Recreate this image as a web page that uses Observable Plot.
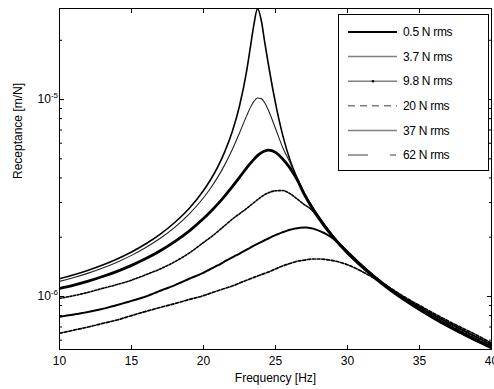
<!DOCTYPE html>
<html><head><meta charset="utf-8">
<script src="https://cdn.jsdelivr.net/npm/d3@7"></script>
<script src="https://cdn.jsdelivr.net/npm/@observablehq/plot@0.6"></script>
<style>
html,body{margin:0;padding:0;background:#fff;overflow:hidden;}
#wrap{position:relative;width:494px;height:389px;font-family:"Liberation Sans",Arial,sans-serif;}
#wrap svg{display:block;}
#legend{position:absolute;left:338px;top:14px;width:151px;height:157px;box-sizing:border-box;border:1px solid #000;background:#fff;}
</style></head><body><div id="wrap"></div>
<script>
// Frequency grid [Hz]
const freq = [10,11,12,13,14,15,16,17,18,19,20,20.5,21,21.5,22,22.5,23,23.25,23.5,23.75,24,24.25,24.5,25,25.5,26,26.5,27,27.5,28,29,30,31,32,33,34,35,36,37,38,39,40];
// Receptance values in 1e-6 m/N
const r05 = [1.231,1.289,1.360,1.445,1.551,1.683,1.852,2.074,2.375,2.797,3.452,3.927,4.570,5.487,6.891,9.28,14.04,18.35,24.0,28.9,25.5,19.6,15.2,9.6,6.6,4.95,4.0,3.35,2.9,2.55,2.03,1.68,1.43,1.235,1.085,0.963,0.865,0.782,0.712,0.651,0.599,0.553];
const r37 = [1.193,1.248,1.314,1.395,1.494,1.617,1.773,1.974,2.244,2.620,3.173,3.556,4.050,4.70,5.574,6.765,8.29,9.10,9.79,10.18,10.11,9.63,8.85,7.13,5.71,4.8,3.95,3.33,2.88,2.53,2.02,1.675,1.42,1.226,1.075,0.954,0.854,0.771,0.701,0.641,0.590,0.545];
const r98 = [1.10,1.143,1.197,1.263,1.342,1.439,1.558,1.708,1.899,2.149,2.486,2.70,2.954,3.256,3.613,4.03,4.50,4.74,4.97,5.19,5.36,5.48,5.53,5.39,4.99,4.5,3.92,3.3,2.85,2.5,2.0,1.66,1.415,1.225,1.075,0.956,0.858,0.776,0.706,0.646,0.594,0.549];
const r20 = [0.978,1.01,1.05,1.10,1.15,1.21,1.29,1.38,1.50,1.66,1.88,2.0,2.14,2.3,2.47,2.63,2.80,2.90,3.0,3.1,3.2,3.29,3.36,3.44,3.45,3.33,3.13,2.93,2.76,2.5,2.02,1.69,1.44,1.245,1.095,0.975,0.875,0.79,0.72,0.66,0.607,0.56];
const r370 = [0.79,0.81,0.835,0.865,0.905,0.95,1.0,1.07,1.14,1.23,1.32,1.38,1.44,1.51,1.58,1.65,1.73,1.77,1.81,1.85,1.89,1.93,1.97,2.05,2.12,2.18,2.22,2.24,2.22,2.16,1.97,1.69,1.44,1.245,1.095,0.98,0.885,0.805,0.735,0.675,0.62,0.57];
const r62 = [0.65,0.675,0.70,0.73,0.76,0.80,0.84,0.88,0.92,0.965,1.01,1.04,1.07,1.10,1.13,1.17,1.21,1.23,1.25,1.27,1.29,1.31,1.33,1.38,1.43,1.47,1.51,1.53,1.55,1.55,1.52,1.45,1.34,1.22,1.10,0.99,0.90,0.82,0.75,0.69,0.635,0.58];
const unit = 1e-6;
const seriesNames = ["0.5 N rms","3.7 N rms","9.8 N rms","20 N rms","37 N rms","62 N rms"];
const seriesValues = [r05, r37, r98, r20, r370, r62];
const xTicks = [10,15,20,25,30,35,40];
const yMajor = [1e-6, 1e-5];
const yMinor = [6e-7,7e-7,8e-7,9e-7,2e-6,3e-6,4e-6,5e-6,6e-6,7e-6,8e-6,9e-6,2e-5];
const yDomain = [5.38e-7, 2.9e-5];
const xLabel = "Frequency [Hz]";
const yLabel = "Receptance [m/N]";

// line styles (plot) and legend styles
const plotStyles = [
  {stroke:"#000", strokeWidth:1.6},
  {stroke:"#222", strokeWidth:1.1},
  {stroke:"#000", strokeWidth:2.8},
  {stroke:"#000", strokeWidth:1.6, strokeDasharray:"2,1.6"},
  {stroke:"#000", strokeWidth:2.0, strokeDasharray:"5,1"},
  {stroke:"#000", strokeWidth:1.7, strokeDasharray:"3,1.8"}
];
const legendStyles = [
  {stroke:"#000", w:2, dash:null, dot:false},
  {stroke:"#808080", w:1.5, dash:null, dot:false},
  {stroke:"#808080", w:1.5, dash:null, dot:true},
  {stroke:"#808080", w:1.5, dash:"7,5", dot:false},
  {stroke:"#808080", w:1.5, dash:null, dot:false},
  {stroke:"#808080", w:1.5, dash:"20,22,6,60", dot:false}
];

const rows = seriesNames.map((name, i) => freq.map((f, j) => ({f, v: seriesValues[i][j]*unit, s: name})));

const lines = rows.map((data, i) => Plot.line(data, {x:"f", y:"v", curve:"monotone-x", clip:true, ...plotStyles[i]}));

const chart = Plot.plot({
  width: 494, height: 389,
  marginLeft: 59, marginRight: 3, marginTop: 8, marginBottom: 40,
  style: {fontFamily: "'Liberation Sans', Arial, sans-serif", fontSize: "12px", color: "#000", background: "#fff", overflow: "visible"},
  x: {domain: [10, 40]},
  y: {type: "log", domain: yDomain},
  marks: [
    ...lines,
    Plot.frame({stroke: "#000", strokeWidth: 1}),
    Plot.axisX(xTicks, {anchor: "bottom", tickSize: -4, tickPadding: 11, label: null}),
    Plot.axisX(xTicks, {anchor: "top", tickSize: -4, tickFormat: () => "", label: null}),
    Plot.axisY(yMajor, {anchor: "left", tickSize: -5, tickPadding: 6.5, tickFormat: d => String(Math.round(Math.log10(d))), label: null}),
    Plot.axisY(yMinor, {anchor: "left", tickSize: -3, tickFormat: () => "", label: null}),
    Plot.axisY(yMajor, {anchor: "right", tickSize: -5, tickFormat: () => "", label: null}),
    Plot.axisY(yMinor, {anchor: "right", tickSize: -3, tickFormat: () => "", label: null}),
    Plot.text([xLabel], {frameAnchor: "bottom", dy: 29, text: d => d, fill: "#000", lineAnchor: "middle"}),
    Plot.text([yLabel], {frameAnchor: "left", dx: -41, rotate: -90, text: d => d, fill: "#000", lineAnchor: "middle"})
  ]
});

// superscript exponents on y tick labels
const ns = "http://www.w3.org/2000/svg";
chart.querySelectorAll('g[aria-label="y-axis tick label"] text').forEach(t => {
  const e = t.textContent;
  if (!e) return;
  t.textContent = "10";
  const s = document.createElementNS(ns, "tspan");
  s.setAttribute("dy", "-5");
  s.setAttribute("font-size", "8");
  s.textContent = e;
  t.appendChild(s);
});

const wrap = document.getElementById("wrap");
wrap.appendChild(chart);

// legend
const leg = document.createElement("div");
leg.id = "legend";
const lsvg = d3.create("svg").attr("width", 149).attr("height", 155)
  .style("font-family", "'Liberation Sans', Arial, sans-serif").style("font-size", "12px");
seriesNames.forEach((name, i) => {
  const y = 17 + i * 24.6;
  const st = legendStyles[i];
  const ln = lsvg.append("line").attr("x1", 9).attr("x2", 58).attr("y1", y).attr("y2", y)
    .attr("stroke", st.stroke).attr("stroke-width", st.w);
  if (st.dash) ln.attr("stroke-dasharray", st.dash);
  if (st.dot) lsvg.append("circle").attr("cx", 34).attr("cy", y).attr("r", 1.3).attr("fill", "#000");
  lsvg.append("text").attr("x", 64).attr("y", y).attr("dy", "0.35em").attr("fill", "#000")
    .style("letter-spacing", "-0.3px").text(name);
});
leg.appendChild(lsvg.node());
wrap.appendChild(leg);
</script>
</body></html>
